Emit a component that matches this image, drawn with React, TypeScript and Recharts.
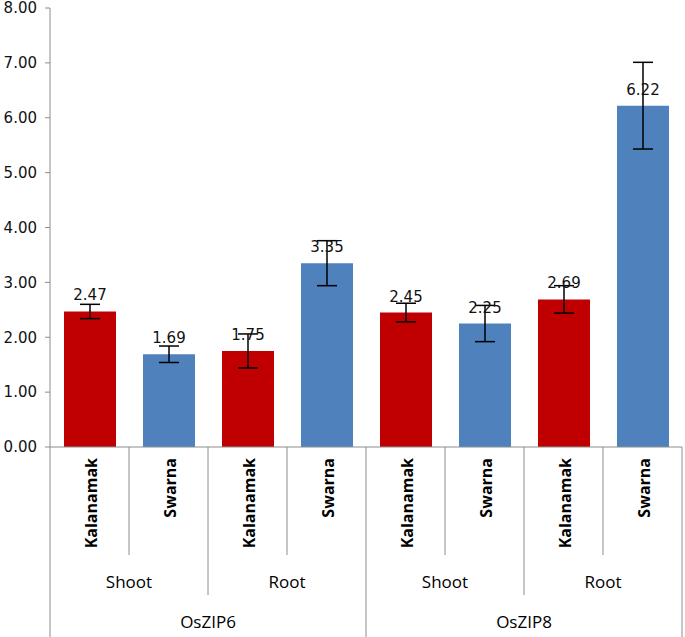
import { BarChart, Bar, XAxis, YAxis, Cell, ErrorBar, LabelList } from 'recharts';

const varieties = ['Kalanamak', 'Swarna', 'Kalanamak', 'Swarna', 'Kalanamak', 'Swarna', 'Kalanamak', 'Swarna'];
const tissues = ['Shoot', 'Shoot', 'Root', 'Root', 'Shoot', 'Shoot', 'Root', 'Root'];
const genes = ['OsZIP6', 'OsZIP6', 'OsZIP6', 'OsZIP6', 'OsZIP8', 'OsZIP8', 'OsZIP8', 'OsZIP8'];
const values = [2.47, 1.69, 1.75, 3.35, 2.45, 2.25, 2.69, 6.22];
const errors = [0.13, 0.15, 0.31, 0.41, 0.17, 0.33, 0.25, 0.79];
const yTicks = [0, 1, 2, 3, 4, 5, 6, 7, 8];

const RED = '#C00000';
const BLUE = '#4F81BD';
const AXIS = '#8c8c8c';

const W = 685;
const H = 637;
const M = { top: 8, right: 3, left: 0, bottom: 0 };
const Y_AXIS_W = 50;
const X_AXIS_H = 190;
const BW = (W - M.left - M.right - Y_AXIS_W) / varieties.length;

const data = varieties.map((v, i) => ({
  key: String(i),
  variety: v,
  value: values[i],
  err: errors[i],
}));

function groupStart(arr: string[], i: number, parent?: string[]) {
  let s = i;
  while (s > 0 && arr[s - 1] === arr[i] && (!parent || parent[s - 1] === parent[i])) s--;
  return s;
}

function isGroupEnd(arr: string[], i: number, parent?: string[]) {
  return i === arr.length - 1 || arr[i + 1] !== arr[i] || (parent ? parent[i + 1] !== parent[i] : false);
}

// draws variety label, group separators and the Shoot/Root + gene labels
function CategoryTick(props: any) {
  const { x, y, payload } = props;
  const i = Number(payload.index);
  const left = x - BW / 2;
  const bottom = H;
  const lvl1 = y + 108;
  const lvl2 = y + 148;

  let sepEnd = lvl1;
  if (i === 0 || genes[i] !== genes[i - 1]) sepEnd = bottom;
  else if (tissues[i] !== tissues[i - 1]) sepEnd = lvl2;

  const out: any[] = [];
  out.push(<line key="sep" x1={left} y1={y} x2={left} y2={sepEnd} stroke={AXIS} strokeWidth={1} />);
  if (i === varieties.length - 1) {
    out.push(<line key="end" x1={x + BW / 2} y1={y} x2={x + BW / 2} y2={bottom} stroke={AXIS} strokeWidth={1} />);
  }
  out.push(
    <text
      key="var"
      x={0}
      y={0}
      transform={`translate(${x + 7},${y + 11}) rotate(-90)`}
      textAnchor="end"
      fontFamily="'Open Sans', sans-serif"
      fontWeight={700}
      fontSize={16}
      fill="#000"
    >
      {varieties[i]}
    </text>
  );
  if (isGroupEnd(tissues, i, genes)) {
    const s = groupStart(tissues, i, genes);
    const center = x - ((i - s) * BW) / 2;
    out.push(
      <text key="tis" x={center} y={y + 141} textAnchor="middle" fontFamily="'Open Sans', sans-serif" fontSize={17} fill="#000">
        {tissues[i]}
      </text>
    );
  }
  if (isGroupEnd(genes, i)) {
    const s = groupStart(genes, i);
    const center = x - ((i - s) * BW) / 2;
    out.push(
      <text key="gene" x={center} y={y + 181} textAnchor="middle" fontFamily="'Open Sans', sans-serif" fontSize={17} fill="#000">
        {genes[i]}
      </text>
    );
  }
  return <g>{out}</g>;
}

export default function App() {
  return (
    <div style={{ width: W, height: H, background: '#fff' }}>
      <style>{'body{margin:0}'}</style>
      <BarChart width={W} height={H} data={data} margin={M} barSize={52}>
        <XAxis
          dataKey="key"
          height={X_AXIS_H}
          interval={0}
          tickLine={false}
          tickSize={0}
          tickMargin={0}
          axisLine={{ stroke: AXIS }}
          tick={<CategoryTick />}
        />
        <YAxis
          width={Y_AXIS_W}
          domain={[0, 8]}
          ticks={yTicks}
          interval={0}
          tickFormatter={(v: number) => v.toFixed(2)}
          tickSize={5}
          tickMargin={8}
          axisLine={{ stroke: AXIS }}
          tickLine={{ stroke: AXIS }}
          tick={{ fill: '#111', fontSize: 15, fontFamily: "'DejaVu Sans', sans-serif" }}
        />
        <Bar dataKey="value" isAnimationActive={false}>
          {data.map((d, i) => (
            <Cell key={d.key} fill={i % 2 === 0 ? RED : BLUE} />
          ))}
          <ErrorBar dataKey="err" width={10} stroke="#000" strokeWidth={1.5} direction="y" />
          <LabelList
            dataKey="value"
            position="top"
            offset={11}
            formatter={(v: any) => Number(v).toFixed(2)}
            style={{ fill: '#111', fontSize: 15, fontFamily: "'DejaVu Sans', sans-serif" }}
          />
        </Bar>
      </BarChart>
    </div>
  );
}
